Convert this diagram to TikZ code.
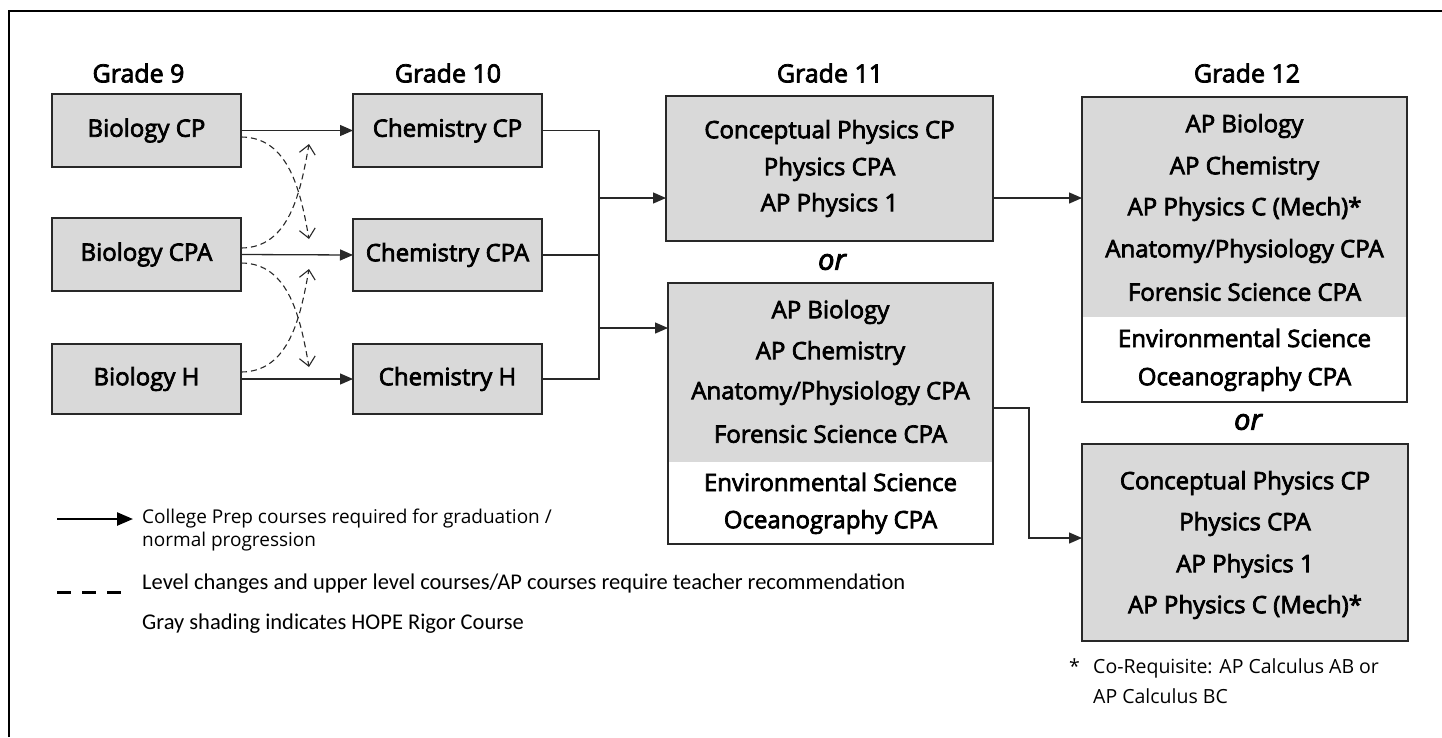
\documentclass[tikz,border=0pt]{standalone}
\usepackage{fontspec}
\setmainfont{Open Sans}
\newfontfamily\sbf[FakeBold=3]{Open Sans}
\newfontfamily\calfont{Carlito}
\usetikzlibrary{arrows.meta}
\definecolor{boxgray}{RGB}{217,217,217}
\definecolor{edge}{RGB}{40,40,40}
\tikzset{
  box/.style={draw=edge, line width=1.4pt, fill=boxgray, inner sep=0pt, outer sep=0pt,
    font=\sbf\fontsize{24}{28}\selectfont},
  boxframe/.style={draw=edge, line width=1.4pt, inner sep=0pt, outer sep=0pt},
  line/.style={inner sep=0pt, font=\sbf\fontsize{24}{28}\selectfont},
  grade/.style={inner sep=0pt, font=\sbf\fontsize{25}{30}\selectfont},
  ortext/.style={inner sep=0pt, font=\sbf\itshape\fontsize{29}{32}\selectfont},
  flow/.style={draw=edge, line width=1.3pt, -{Triangle[length=13pt,width=11pt]}},
  joint/.style={draw=edge, line width=1.3pt},
  level/.style={draw=edge, line width=1.1pt, dash pattern=on 6pt off 4pt,
    -{Straight Barb[length=9pt,width=16pt,line width=1.1pt]}},
  legtext/.style={inner sep=0pt, anchor=west, font=\fontsize{19}{23}\selectfont},
  fntext/.style={inner sep=0pt, anchor=west, font=\fontsize{19.5}{23}\selectfont},
  caltext/.style={inner sep=0pt, anchor=west, font=\calfont\fontsize{22.5}{26}\selectfont},
}
\begin{document}
\begin{tikzpicture}[x=1pt,y=-1pt]
\useasboundingbox (0,0) rectangle (1442,737);
\fill[white] (0,0) rectangle (1442,737);
% outer frame
\draw[black, line width=2.6pt] (9,737) -- (9,11) -- (1442,11);

% grade titles
\node[grade] (h9)  at (138.5,73) {Grade 9};
\node[grade] (h10) at (448,73) {Grade 10};
\node[grade] (h11) at (830,73) {Grade 11};
\node[grade] (h12) at (1247,73) {Grade 12};

% grade 9
\node[box, minimum width=189pt, minimum height=73pt] (b9cp)  at (146.5,130.5) {Biology CP};
\node[box, minimum width=189pt, minimum height=73pt] (b9cpa) at (146.5,254.5) {Biology CPA};
\node[box, minimum width=189pt, minimum height=70pt] (b9h)   at (146.5,379) {Biology H};

% grade 10
\node[box, minimum width=189pt, minimum height=73pt] (c10cp)  at (447.5,130.5) {Chemistry CP};
\node[box, minimum width=189pt, minimum height=72pt] (c10cpa) at (447.5,255) {Chemistry CPA};
\node[box, minimum width=189pt, minimum height=70pt] (c10h)   at (447.5,379) {Chemistry H};

% grade 11 box A
\node[box, minimum width=327pt, minimum height=145pt] (g11a) at (829.5,168.5) {};
\node[line] (g11a1) at (829.5,132) {Conceptual Physics CP};
\node[line] (g11a2) at (829.5,169) {Physics CPA};
\node[line] (g11a3) at (829.5,205) {AP Physics 1};

\node[ortext] (or1) at (832,262) {or};

% grade 11 box B
\fill[boxgray] (668,283) rectangle (993,462);
\node[boxframe, minimum width=325pt, minimum height=261pt] (g11b) at (830.5,413.5) {};
\node[line] (g11b1) at (830.5,312) {AP Biology};
\node[line] (g11b2) at (830.5,353) {AP Chemistry};
\node[line] (g11b3) at (830.5,393) {Anatomy/Physiology CPA};
\node[line] (g11b4) at (830.5,434) {Forensic Science CPA};
\node[line] (g11b5) at (830.5,482) {Environmental Science};
\node[line] (g11b6) at (830.5,522) {Oceanography CPA};

% grade 12 box A
\fill[boxgray] (1082,97) rectangle (1407,317);
\node[boxframe, minimum width=325pt, minimum height=305pt] (g12a) at (1244.5,249.5) {};
\node[line] (g12a1) at (1244.5,126) {AP Biology};
\node[line] (g12a2) at (1244.5,168) {AP Chemistry};
\node[line] (g12a3) at (1244.5,209) {AP Physics C (Mech)*};
\node[line] (g12a4) at (1244.5,251) {Anatomy/Physiology CPA};
\node[line] (g12a5) at (1244.5,292) {Forensic Science CPA};
\node[line] (g12a6) at (1244.5,338) {Environmental Science};
\node[line] (g12a7) at (1244.5,379) {Oceanography CPA};

\node[ortext] (or2) at (1248,422) {or};

% grade 12 box B
\node[box, minimum width=326pt, minimum height=197pt] (g12b) at (1245,542.5) {};
\node[line] (g12b1) at (1245,483) {Conceptual Physics CP};
\node[line] (g12b2) at (1245,524) {Physics CPA};
\node[line] (g12b3) at (1245,566) {AP Physics 1};
\node[line] (g12b4) at (1245,607) {AP Physics C (Mech)*};

% footnote
\node[fntext] (star) at (1069,666) {*};
\node[fntext] (fn1) at (1093,668) {Co-Requisite: AP Calculus AB or};
\node[fntext] (fn2) at (1093,696) {AP Calculus BC};

% solid progression arrows
\draw[flow] (b9cp.east) -- (c10cp.west);
\draw[flow] (b9cpa.east) -- (c10cpa.west);
\draw[flow] (b9h.east) -- (c10h.west);

% level-change dashed arrows
\coordinate (d1) at (309,239);
\coordinate (u1) at (309,144);
\coordinate (d2) at (309,367);
\coordinate (u2) at (309,269);
\draw[level] ([yshift=-6.5pt]b9cp.east) to[out=0,in=100] (d1);
\draw[level] ([yshift=6.5pt]b9cpa.east) to[out=0,in=-100] (u1);
\draw[level] ([yshift=-8.5pt]b9cpa.east) to[out=0,in=100] (d2);
\draw[level] ([yshift=7pt]b9h.east) to[out=0,in=-100] (u2);

% bracket from grade 10 to grade 11
\coordinate (jtop) at (599,130.5);
\coordinate (jbot) at (599,379);
\coordinate (ja) at (599,198);
\coordinate (jb) at (599,328);
\draw[joint] (c10cp.east) -- (jtop) -- (jbot) -- (c10h.east);
\draw[joint] (c10cpa.east) -- (c10cpa.east -| jtop);
\draw[flow] (ja) -- (ja -| g11a.west);
\draw[flow] (jb) -- (jb -| g11b.west);

% grade 11 to grade 12
\coordinate (ka) at (993,198);
\draw[flow] (ka) -- (ka -| g12a.west);
\coordinate (kb) at (993,408);
\coordinate (kc) at (1029,408);
\coordinate (kd) at (1029,538);
\draw[flow] (kb) -- (kc) -- (kd) -- (kd -| g12b.west);

% legend
\coordinate (l1s) at (57,519);
\coordinate (l1e) at (133,519);
\draw[draw=black, line width=2.4pt, -{Triangle[length=16pt,width=13pt]}] (l1s) -- (l1e);
\node[legtext] (leg1) at (142,519) {College Prep courses required for graduation /};
\node[legtext] (leg1b) at (142,542) {normal progression};
\coordinate (l2s) at (57,592);
\coordinate (l2e) at (124,592);
\draw[black, line width=3pt, dash pattern=on 14pt off 11pt] (l2s) -- (l2e);
\node[caltext] (leg2) at (142,584) {Level changes and upper level courses/AP courses require teacher recommendation};
\node[caltext] (leg3) at (142,624) {Gray shading indicates HOPE Rigor Course};
\end{tikzpicture}
\end{document}
